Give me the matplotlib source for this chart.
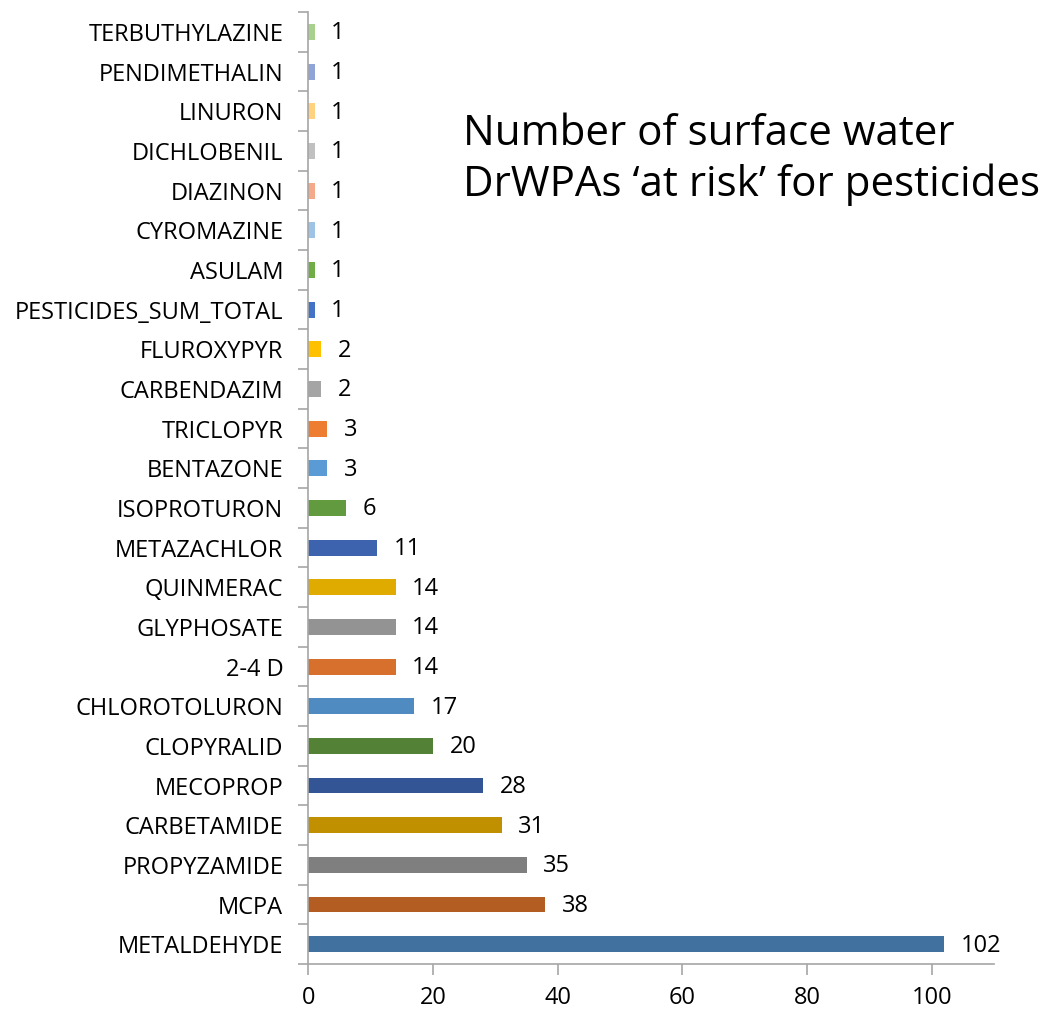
import numpy as np
import matplotlib.pyplot as plt
from matplotlib.ticker import FixedLocator

plt.rcParams['font.family'] = ['Open Sans', 'DejaVu Sans']

# pesticides listed from the bottom bar to the top bar
pesticides = ["METALDEHYDE", "MCPA", "PROPYZAMIDE", "CARBETAMIDE", "MECOPROP",
              "CLOPYRALID", "CHLOROTOLURON", "2-4 D", "GLYPHOSATE", "QUINMERAC",
              "METAZACHLOR", "ISOPROTURON", "BENTAZONE", "TRICLOPYR", "CARBENDAZIM",
              "FLUROXYPYR", "PESTICIDES_SUM_TOTAL", "ASULAM", "CYROMAZINE",
              "DIAZINON", "DICHLOBENIL", "LINURON", "PENDIMETHALIN", "TERBUTHYLAZINE"]
at_risk = [102, 38, 35, 31, 28, 20, 17, 14, 14, 14, 11, 6, 3, 3, 2, 2, 1, 1, 1, 1, 1, 1, 1, 1]
bar_colors = ["#41729F", "#B45D23", "#7F7F7F", "#C09000", "#335595", "#538135",
              "#4F8BC1", "#D6702C", "#939393", "#E0AB00", "#3D63AE", "#629A40",
              "#5B9BD5", "#ED7D31", "#A5A5A5", "#FFC000", "#4472C4", "#70AD47",
              "#9DC3E6", "#F4A98A", "#C0C0C0", "#FFD280", "#8FA5D8", "#A9D18E"]
x_ticks = [0, 20, 40, 60, 80, 100]

fig = plt.figure(figsize=(10.46, 10.10), dpi=100)
ax = fig.add_axes([0.2948, 0.0455, 0.6555, 0.9425])

y = np.arange(len(pesticides))
bars = ax.barh(y, at_risk, height=0.4, color=bar_colors)

for rect, v in zip(bars, at_risk):
    ax.annotate(str(v), (rect.get_width(), rect.get_y() + rect.get_height() / 2),
                xytext=(12, -1), textcoords='offset points',
                ha='left', va='center', fontsize=17)

ax.set_xlim(0, 110)
ax.set_ylim(-0.5, len(pesticides) - 0.5)
ax.set_yticks(y)
ax.set_yticklabels(pesticides, fontsize=17)
ax.set_xticks(x_ticks)
ax.set_xticklabels([str(t) for t in x_ticks], fontsize=17)

# tick marks sit between the categories, labels in the middle
ax.yaxis.set_minor_locator(FixedLocator(np.arange(-0.5, len(pesticides), 1)))
ax.tick_params(axis='y', which='major', length=0, pad=18)
ax.tick_params(axis='y', which='minor', length=7, color='#A6A6A6', width=1.2)
ax.tick_params(axis='x', length=8, color='#A6A6A6', width=1.2, pad=8)

for side in ['top', 'right']:
    ax.spines[side].set_visible(False)
for side in ['left', 'bottom']:
    ax.spines[side].set_color('#A6A6A6')
    ax.spines[side].set_linewidth(1.2)

fig.text(0.4425, 0.842, "Number of surface water\nDrWPAs \u2018at risk\u2019 for pesticides",
         fontsize=30.3, ha='left', va='center', linespacing=1.25)

fig.savefig("out.png", dpi=100)
